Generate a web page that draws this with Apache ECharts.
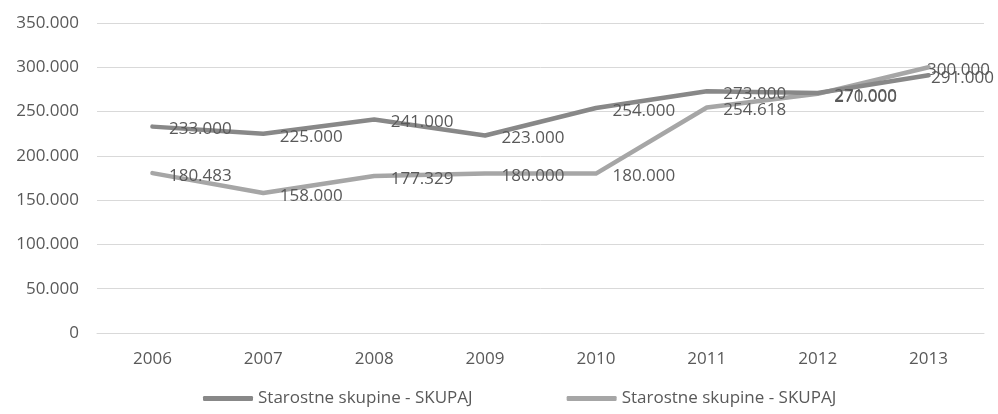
<!DOCTYPE html>
<html>
<head>
<meta charset="utf-8">
<script src="https://cdn.jsdelivr.net/npm/echarts@6/dist/echarts.min.js"></script>
<style>html,body{margin:0;padding:0;background:#fff;}#c{width:998px;height:414px;}</style>
</head>
<body>
<div id="c"></div>
<script>
var categories = ['2006','2007','2008','2009','2010','2011','2012','2013'];
var seriesNames = ['Starostne skupine - SKUPAJ', 'Starostne skupine - SKUPAJ'];
var seriesA = [233000, 225000, 241000, 223000, 254000, 273000, 271000, 291000];
var seriesB = [180483, 158000, 177329, 180000, 180000, 254618, 270000, 300000];
var yTicks = [0, 50000, 100000, 150000, 200000, 250000, 300000, 350000];

function fmt(v) {
  var s = Math.round(v).toString();
  return s.replace(/\B(?=(\d{3})+(?!\d))/g, '.');
}
var FONT = 'Open Sans';
var TXT = '#595959';
var FS = 17;

function buildData(arr, lastDist) {
  return arr.map(function (v, i) {
    var item = { value: v };
    if (i === arr.length - 1) item.label = { distance: lastDist };
    return item;
  });
}

function mkSeries(name, arr, color, z, lastDist) {
  return {
    name: name,
    type: 'line',
    data: buildData(arr, lastDist),
    symbol: 'circle',
    symbolSize: 1,
    showSymbol: true,
    showAllSymbol: true,
    z: z,
    lineStyle: { color: color, width: 4.5, cap: 'round', join: 'round' },
    itemStyle: { color: color },
    label: {
      show: true,
      position: 'right',
      distance: 16,
      offset: [0, 3],
      color: TXT,
      fontFamily: FONT,
      fontSize: FS,
      formatter: function (p) { return fmt(p.value); }
    }
  };
}

var chart = echarts.init(document.getElementById('c'));
chart.setOption({
  animation: false,
  backgroundColor: '#fff',
  grid: { left: 97, right: 14, top: 23, bottom: 81, containLabel: false },
  legend: {
    left: 198,
    bottom: 2,
    itemWidth: 50,
    itemHeight: 5,
    itemGap: 94,
    icon: 'roundRect',
    textStyle: { color: TXT, fontFamily: FONT, fontSize: FS },
    data: [
      { name: seriesNames[0], itemStyle: { color: '#888888' } },
      { name: seriesNames[1] + ' ', itemStyle: { color: '#a6a6a6' } }
    ]
  },
  xAxis: {
    type: 'category',
    data: categories,
    boundaryGap: true,
    axisLine: { show: true, lineStyle: { color: '#d9d9d9', width: 1 } },
    axisTick: { show: false },
    axisLabel: { color: TXT, fontFamily: FONT, fontSize: FS, margin: 18 }
  },
  yAxis: {
    type: 'value',
    min: yTicks[0],
    max: yTicks[yTicks.length - 1],
    interval: yTicks[1] - yTicks[0],
    axisLine: { show: false },
    axisTick: { show: false },
    splitLine: { lineStyle: { color: '#d9d9d9', width: 1 } },
    axisLabel: { color: TXT, fontFamily: FONT, fontSize: FS, margin: 18, formatter: function (v) { return fmt(v); } }
  },
  series: [
    mkSeries(seriesNames[0], seriesA, '#888888', 3, 2),
    mkSeries(seriesNames[1] + ' ', seriesB, '#a6a6a6', 2, -2)
  ]
});
</script>
</body>
</html>
